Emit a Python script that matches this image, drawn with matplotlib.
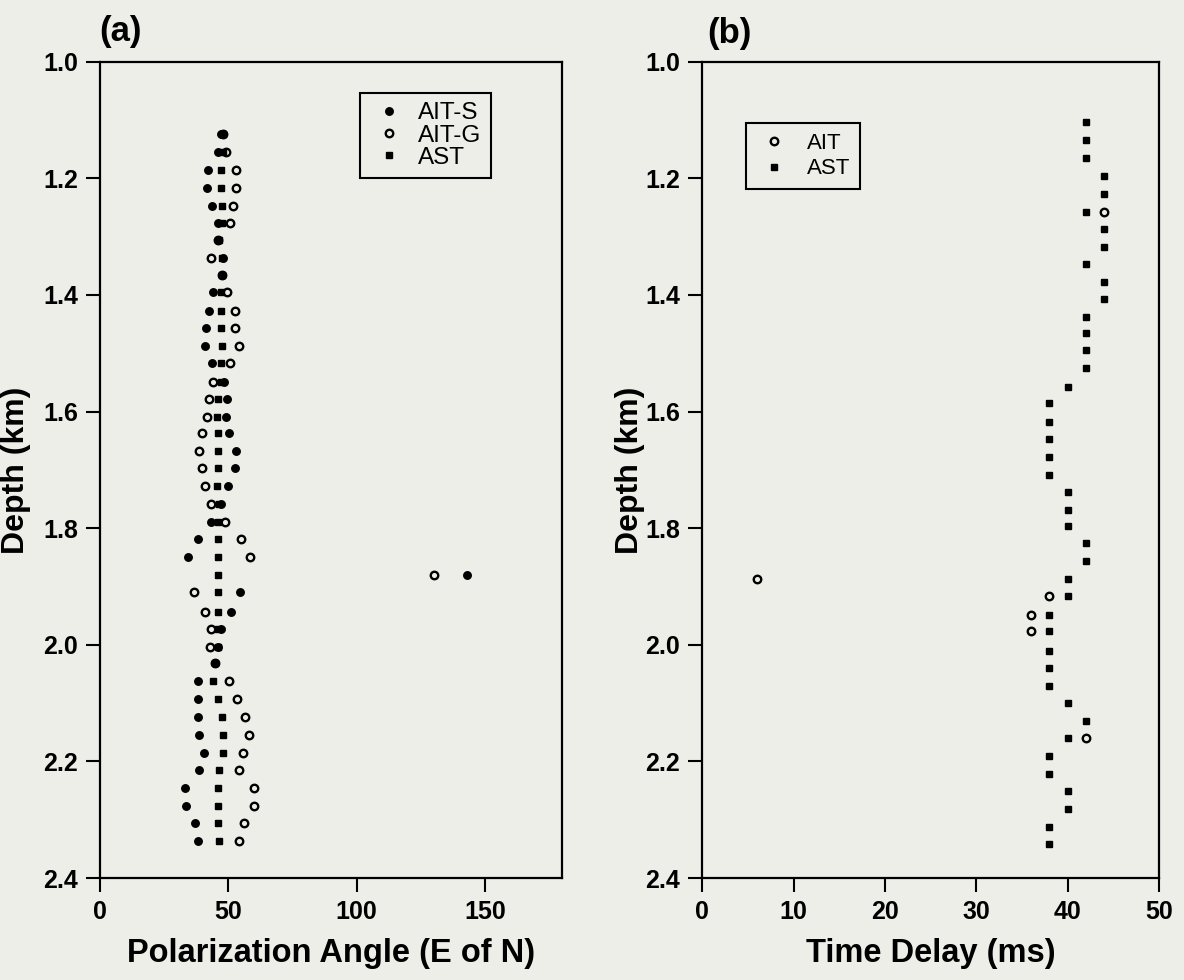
import numpy as np
import matplotlib.pyplot as plt
from matplotlib.ticker import FormatStrFormatter

plt.rcParams['font.family'] = ['Liberation Sans', 'DejaVu Sans']
plt.rcParams['font.weight'] = 'bold'

bg = '#eeeee8'

# ---- panel (a): polarization angle vs depth
depth_a = [1.124, 1.154, 1.185, 1.216, 1.247, 1.277, 1.305, 1.336, 1.365, 1.395,
           1.427, 1.457, 1.487, 1.517, 1.549, 1.579, 1.609, 1.637, 1.667, 1.697,
           1.727, 1.758, 1.789, 1.819, 1.850, 1.880, 1.910, 1.943, 1.973, 2.003,
           2.032, 2.062, 2.093, 2.123, 2.154, 2.185, 2.214, 2.246, 2.276, 2.306,
           2.336]
ait_s = [47, 46, 42, 41.5, 43.5, 46, 46, 48, 47.5, 44,
         42.4, 41.4, 41, 43.5, 48.5, 49.4, 49, 50.4, 53, 52.7,
         50, 47, 43.2, 38, 34.3, 143, 54.5, 51, 47, 45.8,
         45, 38.3, 38, 38.3, 38.6, 40.5, 38.6, 33, 33.4, 37,
         38]
ait_g = [48, 49, 53, 53, 51.7, 50.7, 46, 43.4, 47.5, 49.4,
         52.7, 52.7, 54, 50.7, 44, 42.5, 41.6, 39.6, 38.6, 39.6,
         41, 43.2, 48.8, 55, 58.5, 130, 36.6, 41, 43.2, 43,
         45, 50.4, 53.2, 56.6, 58, 55.6, 54.3, 60, 60, 56,
         54.3]
ast_a = [48, 48, 47, 47, 47.5, 47.7, 46.5, 47.5, 47.5, 47,
         47, 47, 47.4, 47, 47, 45.8, 45.4, 45.8, 46, 46,
         45.4, 46.5, 46, 46, 46, 46, 46, 45.8, 46, 45.8,
         44.7, 44.2, 46, 47.7, 48, 48, 46.4, 46, 46, 46,
         46.2]

# ---- panel (b): time delay vs depth
depth_b = [1.104, 1.135, 1.165, 1.196, 1.226, 1.257, 1.287, 1.317, 1.347, 1.377,
           1.407, 1.437, 1.465, 1.495, 1.525, 1.557, 1.586, 1.617, 1.647, 1.678,
           1.709, 1.738, 1.768, 1.797, 1.826, 1.856, 1.887, 1.917, 1.948, 1.977,
           2.010, 2.040, 2.071, 2.100, 2.130, 2.160, 2.191, 2.221, 2.251, 2.282,
           2.312, 2.342]
ast_b = [42, 42, 42, 44, 44, 42, 44, 44, 42, 44,
         44, 42, 42, 42, 42, 40, 38, 38, 38, 38,
         38, 40, 40, 40, 42, 42, 40, 40, 38, 38,
         38, 38, 38, 40, 42, 40, 38, 38, 40, 40,
         38, 38]
ait_b_depth = [1.257, 1.887, 1.917, 1.948, 1.977, 2.160]
ait_b = [44, 6, 38, 36, 36, 42]

yticks = [1.0, 1.2, 1.4, 1.6, 1.8, 2.0, 2.2, 2.4]

fig = plt.figure(figsize=(11.84, 9.8), dpi=100, facecolor=bg)
ax1 = fig.add_axes([0.0845, 0.104, 0.390, 0.833], facecolor=bg)
ax2 = fig.add_axes([0.593, 0.104, 0.386, 0.833], facecolor=bg)

ms = 5.4
open_kw = dict(ls='none', marker='o', ms=ms, mfc=bg, mec='k', mew=1.7)
fill_kw = dict(ls='none', marker='o', ms=ms, mfc='k', mec='k')
sq_kw = dict(ls='none', marker='s', ms=ms - 0.6, mfc='k', mec='k')

h_g, = ax1.plot(ait_g, depth_a, label='AIT-G', **open_kw)
h_q, = ax1.plot(ast_a, depth_a, label='AST', **sq_kw)
h_s, = ax1.plot(ait_s, depth_a, label='AIT-S', **fill_kw)
ax1.set_xlim(0, 180)
ax1.set_xticks([0, 50, 100, 150])

h_o, = ax2.plot(ait_b, ait_b_depth, label='AIT', **open_kw)
h_b, = ax2.plot(ast_b, depth_b, label='AST', **sq_kw)
ax2.set_xlim(0, 50)
ax2.set_xticks([0, 10, 20, 30, 40, 50])

for ax in (ax1, ax2):
    ax.set_ylim(2.4, 1.0)
    ax.set_yticks(yticks)
    ax.yaxis.set_major_formatter(FormatStrFormatter('%.1f'))
    ax.tick_params(direction='out', length=10, width=1.5, labelsize=18, pad=6,
                   top=False, right=False)
    for s in ax.spines.values():
        s.set_linewidth(1.6)
    ax.set_ylabel('Depth (km)', fontsize=23, fontweight='bold')

ax1.yaxis.set_label_coords(-0.15, 0.5)
ax2.yaxis.set_label_coords(-0.125, 0.5)
ax1.set_xlabel('Polarization Angle (E of N)', fontsize=23.5, fontweight='bold', labelpad=10)
ax2.set_xlabel('Time Delay (ms)', fontsize=23.5, fontweight='bold', labelpad=10)

l1 = ax1.legend(handles=[h_s, h_g, h_q], loc='upper left', bbox_to_anchor=(0.563, 0.962),
                frameon=True, fancybox=False, edgecolor='k', facecolor=bg, framealpha=1,
                prop={'size': 17.5, 'weight': 'normal'}, handlelength=1.6,
                handletextpad=0.4, borderaxespad=0, labelspacing=0.0, borderpad=0.4)
l1.get_frame().set_linewidth(1.5)
l2 = ax2.legend(handles=[h_o, h_b], loc='upper left', bbox_to_anchor=(0.096, 0.925),
                frameon=True, fancybox=False, edgecolor='k', facecolor=bg, framealpha=1,
                prop={'size': 16, 'weight': 'normal'}, handlelength=1.6,
                handletextpad=0.7, borderaxespad=0, labelspacing=0.2, borderpad=0.45)
l2.get_frame().set_linewidth(1.5)

fig.text(0.084, 0.968, '(a)', fontsize=25, fontweight='bold', va='center')
fig.text(0.597, 0.966, '(b)', fontsize=25, fontweight='bold', va='center')

fig.savefig('out.png', dpi=100, facecolor=bg)
